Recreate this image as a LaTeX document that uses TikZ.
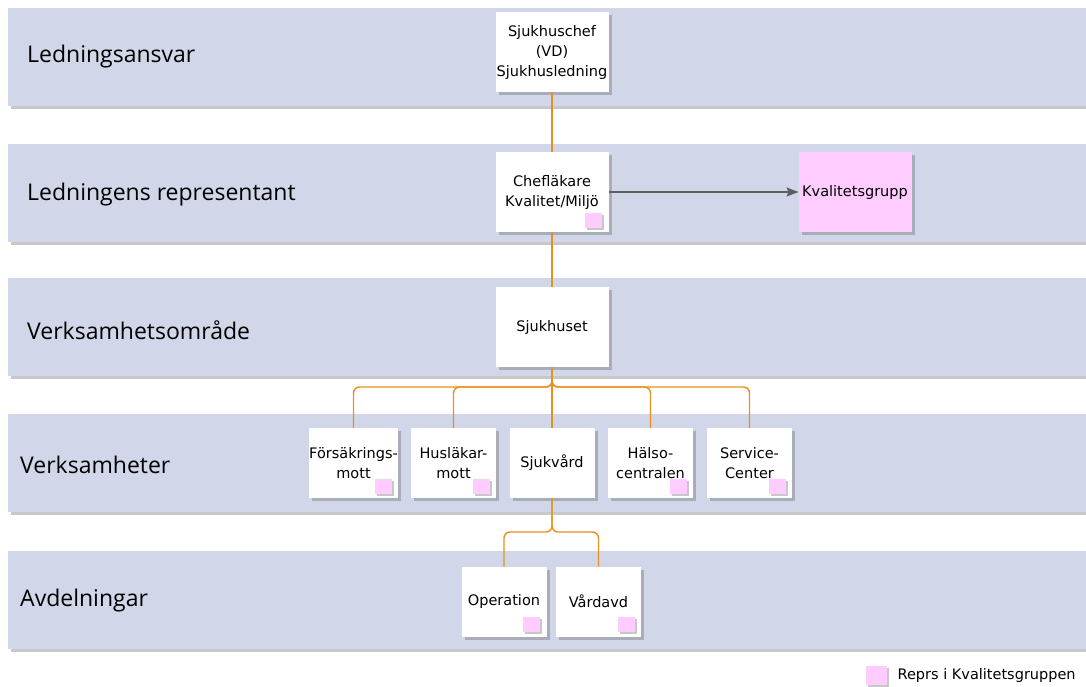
\documentclass[tikz,border=0pt]{standalone}
\usepackage{fontspec}
\setmainfont{Open Sans}
\newfontfamily\boxfont{DejaVu Sans}
\usetikzlibrary{shadows,arrows.meta}
\tikzset{>={Stealth[length=12pt,width=9pt,inset=2pt]}}
\definecolor{bandblue}{HTML}{D1D7E8}
\definecolor{reprpink}{HTML}{FFCCFF}
\definecolor{linkorange}{HTML}{E8901F}
\definecolor{arrowgray}{HTML}{5E5E5E}

\tikzset{
  softshadow/.style={drop shadow={shadow xshift=3pt, shadow yshift=-3pt, opacity=0.3, fill=black!70}},
  band/.style={fill=bandblue, inner sep=0pt, outer sep=0pt, minimum width=1078pt, minimum height=98pt, softshadow},
  lanelabel/.style={anchor=west, inner sep=0pt, font=\fontsize{23}{26}\selectfont},
  unit/.style={fill=white, inner sep=0pt, outer sep=0pt, align=center, minimum width=113pt, minimum height=80pt,
    font=\boxfont\fontsize{14.5}{20}\selectfont, softshadow},
  smallunit/.style={unit, minimum width=85pt, minimum height=70pt},
  marker/.style={fill=reprpink, inner sep=0pt, minimum width=17pt, minimum height=15pt,
    drop shadow={shadow xshift=2pt, shadow yshift=-2pt, opacity=0.3, fill=black!70}},
  link/.style={draw=linkorange, line width=1.4pt, rounded corners=6pt}
}
\newcommand{\repr}[1]{\node[marker, anchor=south east] (#1-r) at ([xshift=-6pt,yshift=4pt]#1.south east) {};}

\begin{document}
\begin{tikzpicture}[x=1pt, y=-1pt]
    \useasboundingbox (0,0) rectangle (1086,686);
    \fill[white] (0,0) rectangle (1086,686);
    \foreach \i/\top in {1/8, 2/144, 3/278, 4/414, 5/551}
        \node[band, anchor=north west] (band\i) at (8,\top) {};
    \node[lanelabel] (lab1) at (27,57) {Ledningsansvar};
    \node[lanelabel] (lab2) at (27,195) {Ledningens representant};
    \node[lanelabel] (lab3) at (27,330) {Verksamhetsområde};
    \node[lanelabel] (lab4) at (20,465) {Verksamheter};
    \node[lanelabel] (lab5) at (20,601) {Avdelningar};

    \node[unit] (chief) at (552,52) {Sjukhuschef\\(VD)\\Sjukhusledning};
    \node[unit] (chef) at (552,192) {Chefläkare\\Kvalitet/Miljö};
    \node[unit, fill=reprpink] (kval) at (855,192) {Kvalitetsgrupp};
    \node[unit] (sjukhuset) at (552,327) {Sjukhuset};
    \node[smallunit] (fors) at (353.5,463) {Försäkrings-\\mott};
    \node[smallunit] (husl) at (453.5,463) {Husläkar-\\mott};
    \node[smallunit] (sjukv) at (552,463) {Sjukvård};
    \node[smallunit] (halso) at (650.5,463) {Hälso-\\centralen};
    \node[smallunit] (service) at (749.5,463) {Service-\\Center};
    \node[smallunit] (operation) at (504,601.5) {Operation};
    \node[smallunit] (vardavd) at (598.5,601.5) {Vårdavd};
    \foreach \n in {chef, fors, husl, halso, service, operation, vardavd}
        {\repr{\n}}

    \coordinate (bus1) at (552,387);
    \coordinate (bus2) at (552,532);
    \draw[link] (chief.south) -- (chef.north);
    \draw[link] (chef.south) -- (sjukhuset.north);
    \draw[link] (sjukhuset.south) -- (sjukv.north);
    \foreach \n in {fors, husl, halso, service}
        \draw[link] (sjukhuset.south) -- (bus1) -| (\n.north);
    \foreach \n in {operation, vardavd}
        \draw[link] (sjukv.south) -- (bus2) -| (\n.north);
    \draw[->, draw=arrowgray, fill=arrowgray, line width=1.2pt] (chef.east) -- (kval.west);

    \node[marker, minimum width=21pt, minimum height=19pt, anchor=north west] (legend) at (866,666) {};
    \node[anchor=west, inner sep=0pt, font=\boxfont\fontsize{14.5}{16}\selectfont] (legendtext) at ([xshift=10pt]legend.east) {Reprs i Kvalitetsgruppen};
\end{tikzpicture}
\end{document}
